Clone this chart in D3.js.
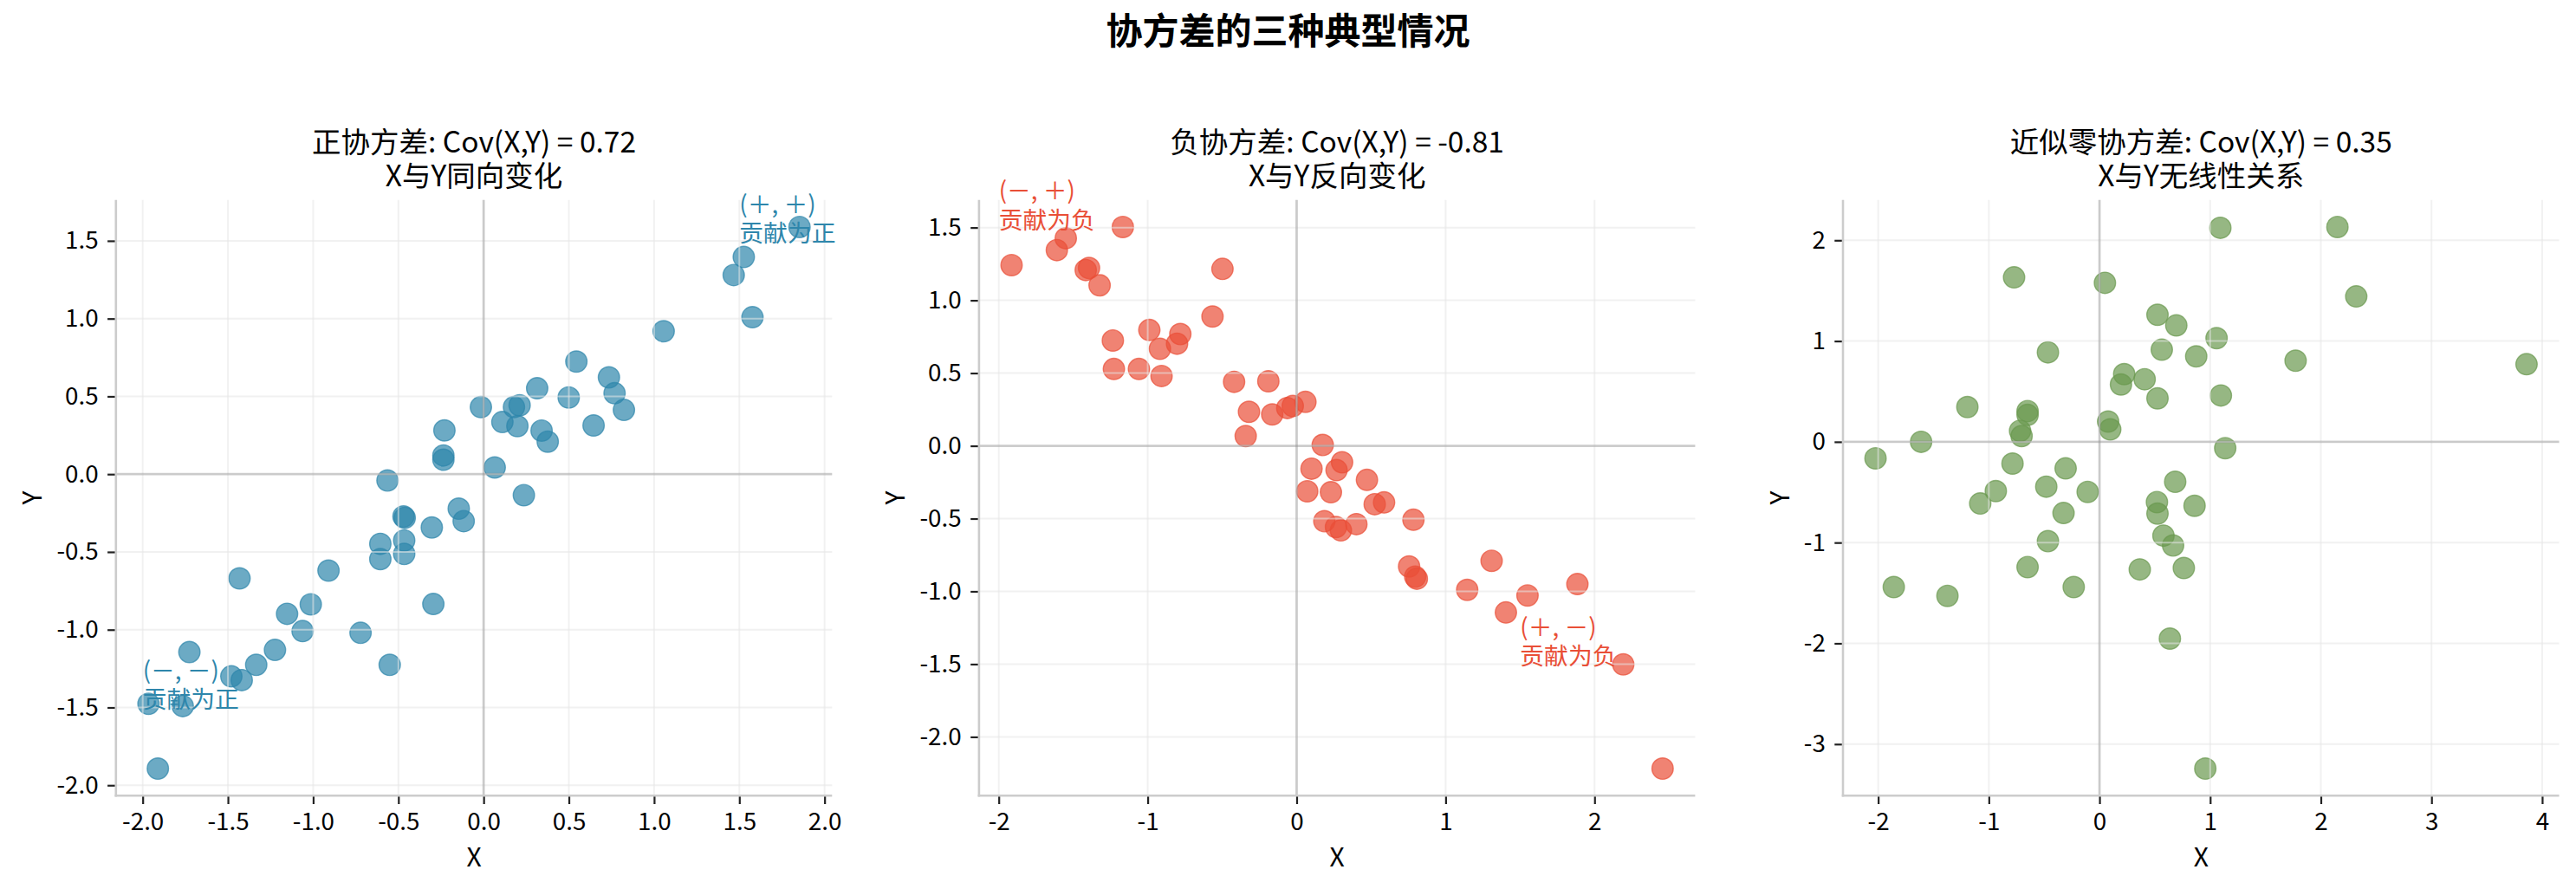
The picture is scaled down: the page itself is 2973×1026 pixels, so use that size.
<!DOCTYPE html>
<html><head><meta charset="utf-8">
<script src="https://cdn.jsdelivr.net/npm/d3@7"></script>
<style>
body{margin:0;background:#fff}
svg{display:block}
text{font-family:"Noto Sans CJK SC","Noto Sans",sans-serif}
</style>
</head><body>
<svg id="chart" width="2973" height="1026"></svg>
<script>
// ---------- data ----------
const mainTitle = "协方差的三种典型情况";
const panelTitles = ["正协方差: Cov(X,Y) = 0.72", "负协方差: Cov(X,Y) = -0.81", "近似零协方差: Cov(X,Y) = 0.35"];
const panelSubtitles = ["X与Y同向变化", "X与Y反向变化", "X与Y无线性关系"];
const panelColors = ["#2E86AB", "#E94F37", "#6A994E"];

const posX = [1.853,1.526,1.467,1.577,1.056,0.544,0.735,0.768,0.499,0.823,0.314,-0.016,0.178,0.211,0.110,0.198,0.340,0.376,0.645,-0.230,-0.236,-0.236,0.065,-0.564,0.236,-0.146,-0.117,-0.470,-0.463,-0.304,-0.606,-0.466,-0.466,-0.606,-0.910,-1.432,-1.014,-1.153,-1.062,-0.722,-0.295,-1.224,-0.551,-1.334,-1.726,-1.480,-1.419,-1.966,-1.765,-1.911];
const posY = [1.589,1.396,1.280,1.009,0.919,0.724,0.622,0.520,0.493,0.413,0.552,0.431,0.431,0.443,0.335,0.309,0.280,0.209,0.313,0.281,0.120,0.093,0.043,-0.041,-0.135,-0.222,-0.302,-0.272,-0.281,-0.343,-0.448,-0.426,-0.513,-0.546,-0.620,-0.670,-0.837,-0.898,-1.009,-1.020,-0.835,-1.130,-1.226,-1.226,-1.144,-1.300,-1.324,-1.476,-1.491,-1.893];

const negX = [-1.914,-1.610,-1.550,-1.167,-1.416,-1.394,-1.323,-0.498,-0.565,-1.234,-1.227,-1.059,-0.907,-0.989,-0.918,-0.803,-0.781,-0.420,-0.190,-0.320,-0.164,-0.063,-0.026,0.059,-0.342,0.175,0.100,0.268,0.305,0.472,0.071,0.230,0.524,0.587,0.784,0.186,0.264,0.297,0.401,0.755,0.796,0.807,1.309,1.145,1.550,1.885,1.405,2.193,2.457];
const negY = [1.242,1.345,1.427,1.504,1.208,1.222,1.103,1.216,0.889,0.724,0.528,0.528,0.480,0.796,0.667,0.702,0.768,0.440,0.444,0.234,0.216,0.260,0.274,0.302,0.067,0.006,-0.157,-0.167,-0.113,-0.234,-0.312,-0.319,-0.401,-0.389,-0.508,-0.518,-0.558,-0.581,-0.538,-0.829,-0.899,-0.913,-0.790,-0.990,-1.028,-0.950,-1.145,-1.502,-2.218];

const zeroX = [1.092,2.150,-0.772,0.049,2.320,0.524,0.694,1.058,0.563,0.874,-0.466,1.772,3.859,0.223,0.194,0.408,0.524,1.097,-1.194,-0.650,-0.650,0.078,0.097,-0.718,-0.704,-1.612,-2.024,1.136,-0.786,-0.306,-0.937,-0.481,-0.107,-1.078,0.684,0.519,0.524,0.859,-0.325,-0.466,0.578,0.665,-0.650,0.364,0.762,-1.859,-1.374,-0.233,0.636,0.956];
const zeroY = [2.124,2.132,1.632,1.578,1.443,1.261,1.155,1.029,0.914,0.848,0.888,0.805,0.770,0.672,0.569,0.621,0.431,0.460,0.345,0.305,0.267,0.201,0.124,0.109,0.057,0.000,-0.164,-0.063,-0.216,-0.264,-0.489,-0.445,-0.497,-0.612,-0.397,-0.598,-0.713,-0.635,-0.707,-0.986,-0.931,-1.029,-1.243,-1.266,-1.252,-1.441,-1.529,-1.441,-1.953,-3.243];

const xTicks1 = [-2.0,-1.5,-1.0,-0.5,0.0,0.5,1.0,1.5,2.0];
const yTicks1 = [-2.0,-1.5,-1.0,-0.5,0.0,0.5,1.0,1.5];
const xTicks2 = [-2,-1,0,1,2];
const yTicks2 = [-2.0,-1.5,-1.0,-0.5,0.0,0.5,1.0,1.5];
const xTicks3 = [-2,-1,0,1,2,3,4];
const yTicks3 = [-3,-2,-1,0,1,2];

// annotations: panel index, anchor x, anchor y, two text lines
const annPanel = [0, 0, 1, 1];
const annX = [1.5, -2.0, -2.0, 1.5];
const annY = [1.5, -1.5, 1.5, -1.5];
const annLine1 = ["(＋, ＋)", "(－, －)", "(－, ＋)", "(＋, －)"];
const annLine2 = ["贡献为正", "贡献为正", "贡献为负", "贡献为负"];

// ---------- layout ----------
const svg = d3.select("#chart");
const axLeft = [133.8, 1129.9, 2127.0];
const axWidth = 826.5;
const axTop = 230.7, axBottom = 918.3;
const tickLen = 9.7, tickPad = 10.5;
const fmt1 = v => d3.format(".1f")(v).replace("−", "-");
const fmt0 = v => d3.format("d")(v).replace("−", "-");

const panels = [
  {xs: posX, ys: posY, xt: xTicks1, yt: yTicks1, fx: fmt1, fy: fmt1},
  {xs: negX, ys: negY, xt: xTicks2, yt: yTicks2, fx: fmt0, fy: fmt1},
  {xs: zeroX, ys: zeroY, xt: xTicks3, yt: yTicks3, fx: fmt0, fy: fmt0}
];

function padded(vals) {
  const [a, b] = d3.extent(vals);
  const m = (b - a) * 0.05;
  return [a - m, b + m];
}

// main title
svg.append("text")
  .attr("x", 1486.5).attr("y", 51)
  .attr("text-anchor", "middle")
  .attr("font-size", 42).attr("font-weight", "bold")
  .attr("fill", "#000")
  .text(mainTitle);

panels.forEach((p, i) => {
  const L = axLeft[i], R = L + axWidth;
  const color = panelColors[i];
  const x = d3.scaleLinear().domain(padded(p.xs)).range([L, R]);
  const y = d3.scaleLinear().domain(padded(p.ys)).range([axBottom, axTop]);
  const g = svg.append("g");
  const cx = (L + R) / 2;

  // subtitles
  g.append("text").attr("x", cx).attr("y", 175.7).attr("text-anchor", "middle")
    .attr("font-size", 33.5).attr("fill", "#000").text(panelTitles[i]);
  g.append("text").attr("x", cx).attr("y", 215.2).attr("text-anchor", "middle")
    .attr("font-size", 33.5).attr("fill", "#000").text(panelSubtitles[i]);

  // points
  const pts = p.xs.map((v, k) => [v, p.ys[k]]);
  g.append("g").selectAll("circle").data(pts).join("circle")
    .attr("cx", d => x(d[0])).attr("cy", d => y(d[1]))
    .attr("r", 12.3)
    .attr("fill", color).attr("fill-opacity", 0.7)
    .attr("stroke", color).attr("stroke-opacity", 0.7).attr("stroke-width", 1.4);

  // grid (drawn over points, light)
  const grid = g.append("g").attr("stroke", "#e6e6e6").attr("stroke-opacity", 0.55).attr("stroke-width", 2);
  grid.selectAll("line.gx").data(p.xt).join("line").attr("class", "gx")
    .attr("x1", d => x(d)).attr("x2", d => x(d)).attr("y1", axTop).attr("y2", axBottom);
  grid.selectAll("line.gy").data(p.yt).join("line").attr("class", "gy")
    .attr("y1", d => y(d)).attr("y2", d => y(d)).attr("x1", L).attr("x2", R);

  // zero lines
  g.append("line").attr("x1", L).attr("x2", R).attr("y1", y(0)).attr("y2", y(0))
    .attr("stroke", "#808080").attr("stroke-opacity", 0.35).attr("stroke-width", 2.8);
  g.append("line").attr("x1", x(0)).attr("x2", x(0)).attr("y1", axTop).attr("y2", axBottom)
    .attr("stroke", "#808080").attr("stroke-opacity", 0.35).attr("stroke-width", 2.8);

  // annotations
  annPanel.forEach((pi, k) => {
    if (pi !== i) return;
    const t = g.append("text").attr("font-size", 27.8).attr("fill", color);
    t.append("tspan").attr("x", x(annX[k])).attr("y", y(annY[k]) + 1 - 33.4).text(annLine1[k]);
    t.append("tspan").attr("x", x(annX[k])).attr("y", y(annY[k]) + 1).text(annLine2[k]);
  });

  // axes
  const xa = g.append("g").attr("transform", `translate(0,${axBottom})`)
    .call(d3.axisBottom(x).tickValues(p.xt).tickFormat(p.fx).tickSize(tickLen).tickSizeOuter(0).tickPadding(tickPad));
  const ya = g.append("g").attr("transform", `translate(${L},0)`)
    .call(d3.axisLeft(y).tickValues(p.yt).tickFormat(p.fy).tickSize(tickLen).tickSizeOuter(0).tickPadding(tickPad));
  [xa, ya].forEach(a => {
    a.select(".domain").remove();
    a.selectAll(".tick line").attr("stroke", "#222").attr("stroke-width", 2.2);
    a.selectAll(".tick text").attr("font-size", 27.8).attr("fill", "#000")
      .attr("font-family", '"Noto Sans CJK SC","Noto Sans",sans-serif');
  });

  // spines (left, bottom)
  g.append("line").attr("x1", L).attr("x2", L).attr("y1", axTop).attr("y2", axBottom + 1.3)
    .attr("stroke", "#cccccc").attr("stroke-width", 2.6);
  g.append("line").attr("x1", L - 1.3).attr("x2", R).attr("y1", axBottom).attr("y2", axBottom)
    .attr("stroke", "#cccccc").attr("stroke-width", 2.6);

  // axis labels
  g.append("text").attr("x", cx).attr("y", 1000).attr("text-anchor", "middle")
    .attr("font-size", 30).attr("fill", "#000").text("X");
  let minX = Infinity;
  ya.selectAll(".tick text").each(function() {
    const b = this.getBBox();
    const m = this.getCTM();
    minX = Math.min(minX, b.x + m.e);
  });
  const yl = minX - 17;
  g.append("text").attr("transform", `translate(${yl},${(axTop + axBottom) / 2}) rotate(-90)`)
    .attr("text-anchor", "middle").attr("font-size", 30).attr("fill", "#000").text("Y");
});
</script>
</body></html>
